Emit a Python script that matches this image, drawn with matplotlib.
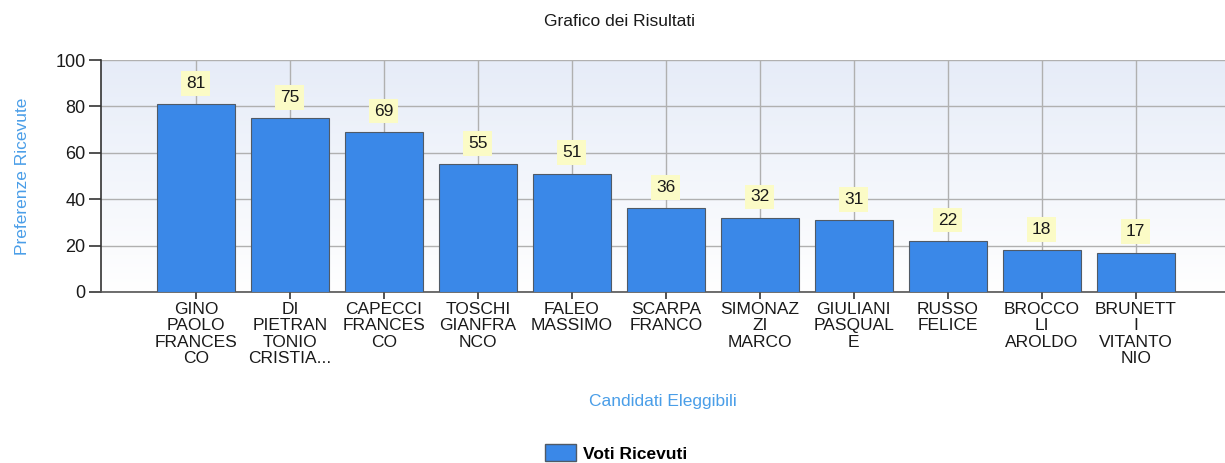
import numpy as np
import matplotlib
matplotlib.use("Agg")
import matplotlib.pyplot as plt
from matplotlib.patches import Patch

# dati del grafico
candidati = ["GINO\nPAOLO\nFRANCES\nCO", "DI\nPIETRAN\nTONIO\nCRISTIA...", "CAPECCI\nFRANCES\nCO",
             "TOSCHI\nGIANFRA\nNCO", "FALEO\nMASSIMO", "SCARPA\nFRANCO", "SIMONAZ\nZI\nMARCO",
             "GIULIANI\nPASQUAL\nE", "RUSSO\nFELICE", "BROCCO\nLI\nAROLDO", "BRUNETT\nI\nVITANTO\nNIO"]
voti = [81, 75, 69, 55, 51, 36, 32, 31, 22, 18, 17]
y_ticks = [0, 20, 40, 60, 80, 100]

plt.rcParams['font.family'] = ['Liberation Sans', 'DejaVu Sans']

fig = plt.figure(figsize=(12.25, 4.63), dpi=100)
ax = fig.add_axes([101 / 1225, 1 - 292 / 463, 1 - 101 / 1225, (292 - 60) / 463])

x = np.arange(len(voti))
ax.set_xlim(-1.01, 10.95)
ax.set_ylim(0, 100)

# sfondo sfumato
grad = np.linspace(0, 1, 256).reshape(-1, 1)
cmap = matplotlib.colors.LinearSegmentedColormap.from_list("bg", ["#ffffff", "#e6ecf8"])
ax.imshow(grad, aspect="auto", cmap=cmap, origin="lower",
          extent=[-1.01, 10.95, 0, 100], zorder=0)

ax.set_axisbelow(True)
ax.grid(True, color="#b0b0b0", linewidth=1, zorder=1)

ax.bar(x, voti, width=0.83, color="#3a88e8", edgecolor="#505a66", linewidth=0.8, zorder=3)

for xi, v in zip(x, voti):
    ax.annotate(str(v), (xi, v), xytext=(0, 15), textcoords="offset points",
                ha="center", va="center", fontsize=12.5, color="#1a1a1a", zorder=5,
                bbox=dict(boxstyle="square,pad=0.28", facecolor="#fbfbc6", edgecolor="none"))

ax.set_xticks(x)
ax.set_xticklabels(candidati, fontsize=12.5, color="#1a1a1a", linespacing=1.13)
ax.set_yticks(y_ticks)
ax.set_yticklabels([str(t) for t in y_ticks], fontsize=13, color="#1a1a1a")
ax.tick_params(axis="y", length=9, width=1.2, color="#333333", pad=2)
ax.tick_params(axis="x", length=5, width=1.2, color="#333333", pad=2)

for s in ["top", "right"]:
    ax.spines[s].set_visible(False)
ax.spines["left"].set_color("#333333")
ax.spines["left"].set_linewidth(1.2)
ax.spines["bottom"].set_color("#555555")
ax.spines["bottom"].set_linewidth(1.2)

ax.set_ylabel("Preferenze Ricevute", fontsize=12.5, color="#4a9ee8", labelpad=18)
ax.set_xlabel("Candidati Eleggibili", fontsize=12.5, color="#4a9ee8", labelpad=20)

fig.text(0.506, 1 - 21 / 463, "Grafico dei Risultati", ha="center", va="center",
         fontsize=12.5, color="#1a1a1a")

handle = Patch(facecolor="#3a88e8", edgecolor="#505a66", label="Voti Ricevuti")
fig.legend(handles=[handle], loc="center", bbox_to_anchor=(0.503, 1 - 453 / 463),
           frameon=False, prop={"weight": "bold", "size": 12.5},
           handlelength=1.8, handleheight=1.1, handletextpad=0.4)

fig.savefig("out.png", dpi=100)
